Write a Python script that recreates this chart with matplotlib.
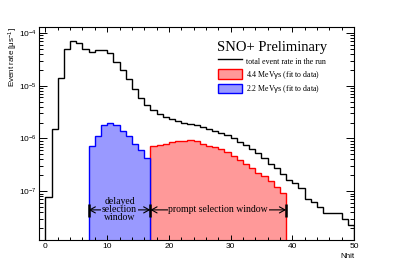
import matplotlib
matplotlib.use("Agg")
import matplotlib.pyplot as plt
import numpy as np
from matplotlib.ticker import LogLocator, NullFormatter, MultipleLocator

# Nhit bins (width 1)
edges_all = np.arange(0, 51)
total_rate = [7.8e-8, 1.5e-6, 1.4e-5, 5.0e-5, 7.0e-5, 6.4e-5, 4.9e-5, 4.4e-5, 4.8e-5, 4.7e-5,
              4.2e-5, 2.85e-5, 2.0e-5, 1.33e-5, 8.5e-6, 5.9e-6, 4.3e-6, 3.45e-6, 2.9e-6, 2.5e-6,
              2.3e-6, 2.1e-6, 2.0e-6, 1.9e-6, 1.8e-6, 1.68e-6, 1.54e-6, 1.41e-6, 1.26e-6, 1.16e-6,
              1.02e-6, 8.7e-7, 7.5e-7, 6.4e-7, 5.25e-7, 4.25e-7, 3.3e-7, 2.7e-7, 2.1e-7, 1.6e-7,
              1.44e-7, 1.13e-7, 7.2e-8, 6.3e-8, 5.0e-8, 3.9e-8, 3.9e-8, 3.9e-8, 3.0e-8, 2.26e-8]

# 2.2 MeV gammas, Nhit 7..17 (delayed window)
edges_22 = np.arange(7, 18)
rate_22 = [7.1e-7, 1.1e-6, 1.8e-6, 2.0e-6, 1.8e-6, 1.4e-6, 1.13e-6, 8.0e-7, 5.9e-7, 4.3e-7]

# 4.4 MeV gammas, Nhit 17..39 (prompt window)
edges_44 = np.arange(17, 40)
rate_44 = [7.2e-7, 7.6e-7, 7.9e-7, 8.5e-7, 8.9e-7, 9.1e-7, 9.3e-7, 8.9e-7, 8.0e-7, 7.3e-7,
           6.8e-7, 6.3e-7, 5.6e-7, 4.7e-7, 3.9e-7, 3.2e-7, 2.7e-7, 2.25e-7, 1.95e-7, 1.55e-7,
           1.22e-7, 9.1e-8]

serif = "Liberation Serif"
sans = "Liberation Sans"
plt.rcParams['font.family'] = [sans, 'DejaVu Sans']
plt.rcParams['mathtext.fontset'] = 'custom'
plt.rcParams['mathtext.rm'] = sans
plt.rcParams['mathtext.it'] = sans

fig = plt.figure(figsize=(3.94, 2.68), dpi=100)
ax = fig.add_axes([0.0997, 0.1045, 0.7988, 0.7945])

base = 1e-9
h44 = ax.stairs(rate_44, edges_44, baseline=base, fill=True, facecolor='#ff9999',
                edgecolor='red', lw=1.0, label='4.4 MeV$\\gamma$s (fit to data)')
h22 = ax.stairs(rate_22, edges_22, baseline=base, fill=True, facecolor='#9999ff',
                edgecolor='blue', lw=1.0, label='2.2 MeV$\\gamma$s (fit to data)')
htot = ax.stairs(total_rate, edges_all, baseline=base, fill=False, color='black',
                 lw=1.0, label='total event rate in the run')

ax.set_yscale('log')
ax.set_xlim(-1, 50)
ax.set_ylim(1.18e-8, 1.3e-4)

ax.xaxis.set_major_locator(MultipleLocator(10))
ax.xaxis.set_minor_locator(MultipleLocator(2))
ax.yaxis.set_major_locator(LogLocator(base=10))
ax.yaxis.set_minor_locator(LogLocator(base=10, subs=np.arange(2, 10)))
ax.yaxis.set_minor_formatter(NullFormatter())
ax.tick_params(which='both', direction='in', top=True, right=True, width=0.7)
ax.tick_params(axis='x', which='major', length=3.6, labelsize=6, pad=2.5)
ax.tick_params(axis='x', which='minor', length=2.0)
ax.tick_params(axis='y', which='major', length=5.8, labelsize=6, pad=2)
ax.tick_params(axis='y', which='minor', length=2.9)
for s in ax.spines.values():
    s.set_linewidth(0.8)

ax.set_xlabel('Nhit', loc='right', fontsize=5.8, labelpad=2)
ax.set_ylabel('Event rate [$\\mu$s$^{-1}$]', loc='top', fontsize=5.8, labelpad=-1)

# selection windows
y_arr = 4.4e-8
d_lo, d_hi = edges_22[0], edges_22[-1]
p_lo, p_hi = edges_44[0], edges_44[-1]
for a, b in [(d_lo, d_hi), (p_lo, p_hi)]:
    ax.annotate('', xy=(b, y_arr), xytext=(a, y_arr),
                arrowprops=dict(arrowstyle='<->,head_length=0.4,head_width=0.22',
                                lw=0.8, color='black', shrinkA=0, shrinkB=0,
                                mutation_scale=10))
ax.vlines([d_lo, d_hi, p_hi], 3.25e-8, 5.8e-8, color='black', lw=1.8)
ax.text((d_lo + d_hi) / 2, y_arr, 'delayed\nselection\nwindow', ha='center', va='center',
        family=serif, fontsize=7, linespacing=0.85, zorder=5,
        bbox=dict(facecolor='#9999ff', edgecolor='none', pad=0.5))
ax.text((p_lo + p_hi) / 2, y_arr, 'prompt selection window', ha='center', va='center',
        family=serif, fontsize=7, zorder=5,
        bbox=dict(facecolor='#ff9999', edgecolor='none', pad=0.5))

leg = ax.legend(handles=[htot, h44, h22], loc='upper center', bbox_to_anchor=(0.74, 0.955),
                frameon=False, title='SNO+ Preliminary',
                title_fontproperties={'family': serif, 'size': 10.5},
                prop={'family': serif, 'size': 5.7}, handlelength=3.0, handleheight=1.45,
                labelspacing=0.35, handletextpad=0.6, borderpad=0)

fig.savefig('out.png', dpi=100)
